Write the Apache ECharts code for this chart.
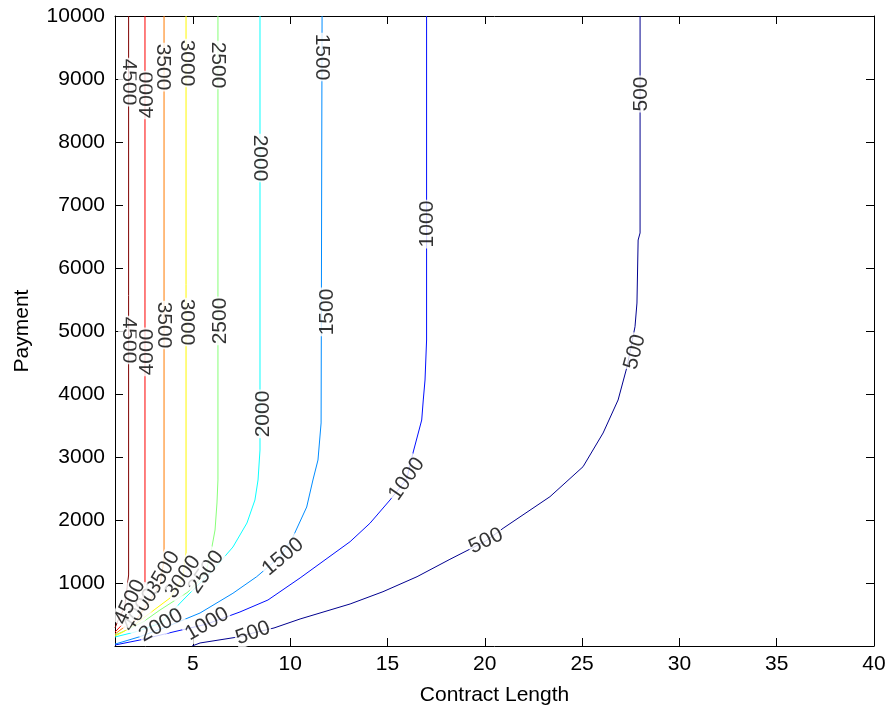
<!DOCTYPE html>
<html>
<head>
<meta charset="utf-8">
<script src="https://cdn.jsdelivr.net/npm/echarts@6/dist/echarts.min.js"></script>
<style>
html,body{margin:0;padding:0;background:#fff;}
#chart{width:890px;height:715px;}
</style>
</head>
<body>
<div id="chart"></div>
<script>
// ---- data ----
const levels = [500, 1000, 1500, 2000, 2500, 3000, 3500, 4000, 4500];
const levelColors = ['#00008f', '#000eff', '#008cff', '#0affff', '#87ff78', '#fff900', '#ff7b00', '#fd0000', '#800000'];

const c500 = [[4.96,0],[5.37,48],[7.42,148],[8.09,206],[9.17,286],[10.51,429],[13.08,667],[14.77,862],[16.52,1100],[18.21,1376],[20.06,1667],[20.94,1868],[23.35,2370],[25.05,2846],[26.08,3381],[26.85,3905],[27.31,4433],[27.72,5068],[27.82,5444],[27.88,6444],[27.98,6556],[27.98,10000]];
const c1000 = [[1.0,16],[2.28,95],[3.98,222],[5.73,349],[7.42,540],[8.86,730],[10.51,1080],[13.08,1656],[14.10,1948],[15.13,2317],[15.99,2651],[16.31,3063],[16.76,3587],[16.84,3905],[16.93,4222],[17.01,4857],[17.01,10000]];
const c1500 = [[1.0,30],[1.09,48],[2.28,148],[3.66,306],[5.37,524],[7.06,837],[8.28,1100],[9.48,1417],[10.15,1735],[10.85,2206],[11.17,2635],[11.43,2952],[11.59,3540],[11.64,10000]];
const c2000 = [[1.0,143],[2.03,222],[3.36,365],[4.60,762],[6.04,1206],[7.06,1571],[7.78,1952],[8.19,2317],[8.35,2635],[8.45,3111],[8.45,10000]];
const c2500 = [[1.0,175],[1.60,254],[2.44,381],[3.31,571],[4.75,857],[5.68,1175],[5.98,1571],[6.14,1841],[6.24,2270],[6.29,2635],[6.29,10000]];
const c3000 = [[1.0,159],[1.41,222],[2.13,365],[2.80,524],[3.83,762],[4.49,1095],[4.65,1476],[4.65,10000]];
const c3500 = [[1.0,190],[1.41,286],[2.13,429],[2.80,730],[3.31,968],[3.52,1365],[3.52,10000]];
const c4000 = [[1.0,222],[1.35,333],[1.85,540],[2.28,690],[2.54,889],[2.54,10000]];
const c4500 = [[1.0,286],[1.15,400],[1.50,620],[1.70,1127],[1.70,10000]];
const contours = [c500, c1000, c1500, c2000, c2500, c3000, c3500, c4000, c4500];

// contour labels: x, y, text, rotation
const labelX = [1.70, 2.64, 3.47, 4.70, 6.29, 8.45, 11.64, 17.03, 28.03,
                1.70, 2.64, 3.52, 4.70, 6.40, 8.61, 11.89, 15.99, 27.72, 20.06,
                8.09, 5.73, 9.63, 3.36, 5.68, 4.49, 3.47, 2.28, 1.77];
const labelY = [8952, 8746, 9190, 9254, 9222, 7746, 9349, 6698, 8762,
                4857, 4667, 5095, 5143, 5159, 3683, 5302, 2651, 4667, 1667,
                206, 349, 1417, 330, 1175, 1095, 1159, 571, 698];
const labelText = ['4500','4000','3500','3000','2500','2000','1500','1000','500',
                   '4500','4000','3500','3000','2500','2000','1500','1000','500','500',
                   '500','1000','1500','2000','2500','3000','3500','4000','4500'];
const labelRot = [-90, 90, -90, -90, -90, -90, -90, 90, 90,
                  -90, 90, -90, -90, 90, 90, 90, 55, 75, 25,
                  20, 30, 40, 30, 55, 55, 60, 55, 65];

const xTicks = [5, 10, 15, 20, 25, 30, 35, 40];
const yTicks = [1000, 2000, 3000, 4000, 5000, 6000, 7000, 8000, 9000, 10000];

// ---- chart ----
const FONT = '"Liberation Sans", Arial, Helvetica, sans-serif';
const chart = echarts.init(document.getElementById('chart'), null, {renderer: 'canvas'});

const axisLine = {show: true, onZero: false, lineStyle: {color: '#000', width: 1}};
const series = contours.map((d, i) => ({
  type: 'line',
  name: String(levels[i]),
  data: d,
  showSymbol: false,
  symbol: 'none',
  silent: true,
  z: 2,
  lineStyle: {color: levelColors[i], width: 1}
}));
series.push({
  type: 'scatter',
  silent: true,
  z: 5,
  symbolSize: 1,
  itemStyle: {color: 'rgba(255,255,255,0)'},
  data: labelX.map((x, i) => ({
    value: [x, labelY[i]],
    name: labelText[i],
    label: {rotate: labelRot[i]}
  })),
  label: {
    show: true,
    position: 'inside',
    formatter: '{b}',
    color: '#000',
    textBorderWidth: 0,
    textBorderColor: 'transparent',
    fontFamily: FONT,
    fontSize: 21,
    backgroundColor: '#fff',
    padding: [0, 1]
  }
});

chart.setOption({
  animation: false,
  backgroundColor: '#fff',
  grid: {left: 115, right: 16, top: 16, bottom: 69, containLabel: false, outerBoundsMode: 'none'},
  xAxis: [{
    type: 'value', min: 1, max: 40, position: 'bottom',
    name: 'Contract Length', nameLocation: 'middle', nameGap: 39,
    nameTextStyle: {color: '#000', fontFamily: FONT, fontSize: 21},
    axisLine: axisLine,
    axisTick: {show: true, inside: true, length: 8, customValues: xTicks, lineStyle: {color: '#000'}},
    axisLabel: {show: true, customValues: xTicks, color: '#000', fontFamily: FONT, fontSize: 21, margin: 8, formatter: v => String(v)},
    splitLine: {show: false}
  }, {
    type: 'value', min: 1, max: 40, position: 'top',
    axisLine: axisLine,
    axisTick: {show: true, inside: true, length: 8, customValues: xTicks, lineStyle: {color: '#000'}},
    axisLabel: {show: false},
    splitLine: {show: false}
  }],
  yAxis: [{
    type: 'value', min: 0, max: 10000, position: 'left',
    name: 'Payment', nameLocation: 'middle', nameGap: 82, nameRotate: 90,
    nameTextStyle: {color: '#000', fontFamily: FONT, fontSize: 21},
    axisLine: axisLine,
    axisTick: {show: true, inside: true, length: 8, customValues: yTicks, lineStyle: {color: '#000'}},
    axisLabel: {show: true, customValues: yTicks, color: '#000', fontFamily: FONT, fontSize: 21, margin: 10, formatter: v => String(v)},
    splitLine: {show: false}
  }, {
    type: 'value', min: 0, max: 10000, position: 'right',
    axisLine: axisLine,
    axisTick: {show: true, inside: true, length: 8, customValues: yTicks, lineStyle: {color: '#000'}},
    axisLabel: {show: false},
    splitLine: {show: false}
  }],
  series: series
});
</script>
</body>
</html>
